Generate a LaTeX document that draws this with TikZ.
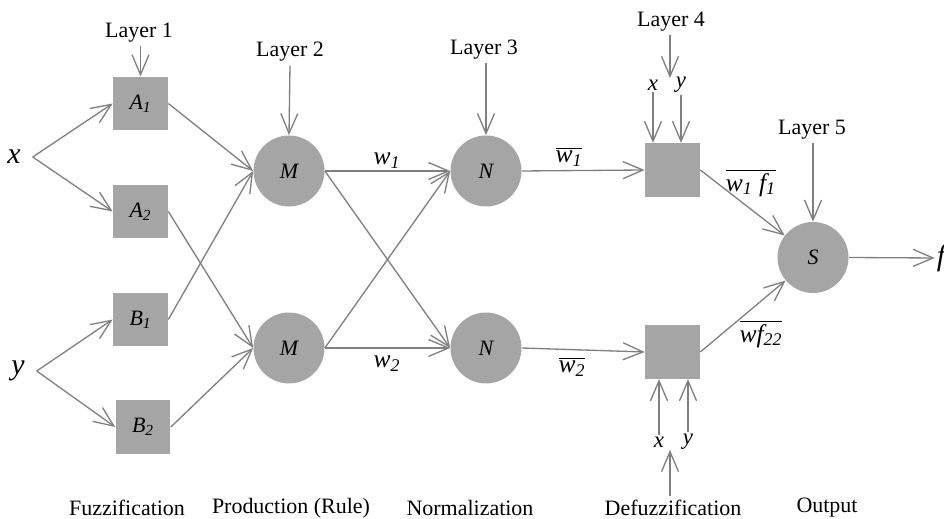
\documentclass[tikz,border=0pt]{standalone}
\usepackage{fontspec}
\setmainfont{Liberation Serif}[ItalicFont=Liberation Serif Italic]
\usetikzlibrary{arrows.meta,positioning}
\definecolor{AnfisFill}{HTML}{A5A5A5}
\definecolor{AnfisLine}{HTML}{7F7F7F}
\newcommand{\barred}[1]{$\overline{\mbox{#1}}$}

\begin{document}
\begin{tikzpicture}[x=0.02cm,y=-0.02cm,
      mf/.style={rectangle,fill=AnfisFill,minimum width=1.1cm,minimum height=1.07cm,
                 inner sep=0pt,font=\fontsize{12.5}{14}\selectfont\itshape},
      rule/.style={circle,fill=AnfisFill,minimum size=1.42cm,inner sep=0pt,
                   font=\fontsize{12.5}{14}\selectfont\itshape},
      layer/.style={font=\fontsize{12.5}{14}\selectfont,inner sep=2pt},
      var/.style={font=\fontsize{17}{19}\selectfont\itshape,inner sep=1pt},
      small/.style={font=\fontsize{13}{15}\selectfont\itshape,inner sep=1pt},
      elabel/.style={font=\fontsize{14.5}{16}\selectfont\itshape,inner sep=1pt},
      flow/.style={-{Straight Barb[length=4mm,width=3.4mm]},draw=AnfisLine,line width=0.75pt}]
    \useasboundingbox (0,0) rectangle (944,519);
    % layer 1: membership functions
    \node[var] (x) at (14,157) {x};
    \node[var] (y) at (18,371) {y};
    \node[mf] (A1) at (140.5,103.5) {A\textsubscript{1}};
    \node[mf] (A2) at (140.5,211.5) {A\textsubscript{2}};
    \node[mf] (B1) at (140.5,319.5) {B\textsubscript{1}};
    \node[mf] (B2) at (143,427) {B\textsubscript{2}};
    % layers 2 and 3
    \node[rule] (M1) at (289,171) {M};
    \node[rule] (M2) at (289,348) {M};
    \node[rule] (N1) at (486,171) {N};
    \node[rule] (N2) at (486,348) {N};
    % layers 4 and 5
    \node[mf] (D1) at (672.5,170) {};
    \node[mf] (D2) at (672.5,352) {};
    \node[rule] (S) at (813,257.5) {S};
    \node[var] (f) at (941,258) {f};
    \draw[flow] ([xshift=2mm]x.east) -- (A1.west);
    \draw[flow] ([xshift=2mm]x.east) -- (A2.west);
    \draw[flow] ([xshift=2mm]y.east) -- (B1.west);
    \draw[flow] ([xshift=2mm]y.east) -- (B2.west);
    \draw[flow] (A1.east) -- (M1.west);
    \draw[flow] (B1.east) -- (M1.west);
    \draw[flow] (A2.east) -- (M2.west);
    \draw[flow] (B2.east) -- (M2.west);
    \draw[flow] (M1.east) -- (N1.west);
    \draw[flow] (M1.east) -- (N2.west);
    \draw[flow] (M2.east) -- (N1.west);
    \draw[flow] (M2.east) -- (N2.west);
    \draw[flow] (N1.east) -- (D1.west);
    \draw[flow] (N2.east) -- (D2.west);
    \draw[flow] (D1.east) -- (S);
    \draw[flow] (D2.east) -- (S);
    \draw[flow] (S.east) -- (f.west);
    \node[elabel] (w1) at (387,161) {w\textsubscript{1}};
    \node[elabel] (w2) at (387,364) {w\textsubscript{2}};
    \node[elabel] (nw1) at (569,157) {\barred{w\textsubscript{1}}};
    \node[elabel] (nw2) at (572,367) {\barred{w\textsubscript{2}}};
    \node[elabel] (wf1) at (751,183) {\barred{w\textsubscript{1} f\textsubscript{1}}};
    \node[elabel] (wf2) at (761,334) {\barred{wf\textsubscript{22}}};
    % layer captions
    \node[layer] (L1) at (139,33) {Layer 1};
    \node[layer] (L2) at (290,52) {Layer 2};
    \node[layer] (L3) at (484,50) {Layer 3};
    \node[layer] (L4) at (671,22) {Layer 4};
    \node[layer] (L5) at (812,130) {Layer 5};
    \draw[flow] (L1.south -| A1) -- (A1.north);
    \draw[flow] (L2.south) -- (M1.north);
    \draw[flow] (L3.south -| N1) -- (N1.north);
    \coordinate (L4end) at (670,78);
    \draw[flow] (L4.south -| L4end) -- (L4end);
    \draw[flow] (L5.south -| S) -- (S.north);
    \node[small] (x4) at (653,85) {x};
    \node[small] (y4) at (681,85) {y};
    \draw[flow] (x4.south) -- (x4.south |- D1.north);
    \draw[flow] (y4.south) -- (y4.south |- D1.north);
    \node[small] (x5) at (659,442) {x};
    \node[small] (y5) at (688,442) {y};
    \draw[flow] (x5.north) -- (x5.north |- D2.south);
    \draw[flow] (y5.north) -- (y5.north |- D2.south);
    % stage names
    \node[layer] (fuz) at (127,508) {Fuzzification};
    \node[layer] (prod) at (291,508) {Production (Rule)};
    \node[layer] (norm) at (470,508) {Normalization};
    \node[layer] (defuz) at (673,508) {Defuzzification};
    \node[layer] (out) at (827,508) {Output};
    \coordinate (xyend) at (670,450);
    \draw[flow] (defuz.north -| xyend) -- (xyend);
  \end{tikzpicture}
\end{document}
